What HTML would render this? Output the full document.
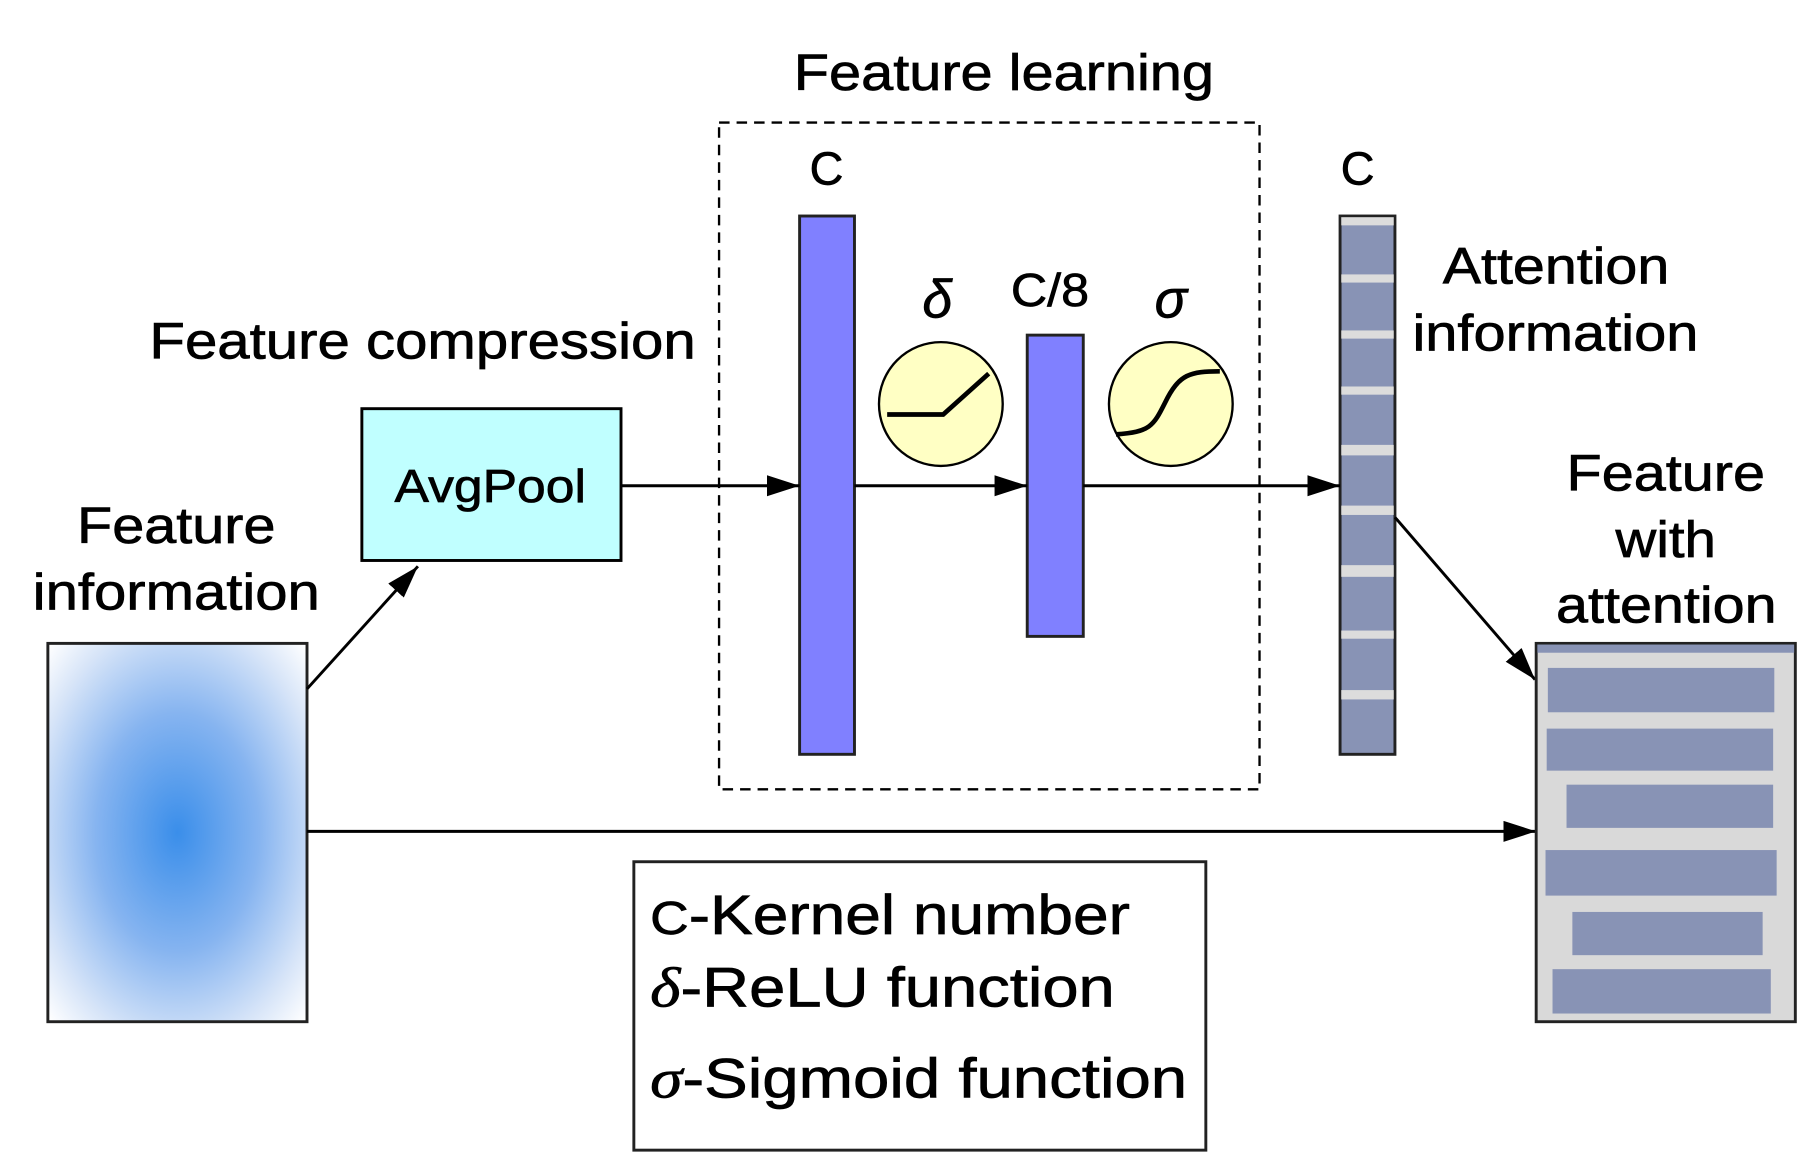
<!DOCTYPE html>
<html><head><meta charset="utf-8"><style>
html,body{margin:0;padding:0;background:#fff;}
svg{display:block;}
text{font-family:"Liberation Sans",Arial,sans-serif;fill:#000;stroke:#000;stroke-width:0.6;}
</style></head><body>
<svg width="1814" height="1170" viewBox="0 0 1554 1002" preserveAspectRatio="none" xmlns="http://www.w3.org/2000/svg">
<defs>
<radialGradient id="g" cx="50%" cy="50%" r="70%">
<stop offset="0" stop-color="#3a8eea"/>
<stop offset="0.45" stop-color="#86b4f0"/>
<stop offset="0.8" stop-color="#d6e4f8"/>
<stop offset="1" stop-color="#ffffff"/>
</radialGradient>
<marker id="b" markerWidth="28" markerHeight="18" refX="28" refY="9" orient="auto" markerUnits="userSpaceOnUse">
<path d="M0,0 L28,9 L0,18 z" fill="#000"/>
</marker>
</defs>
<rect width="1554" height="1002" fill="#fff"/>

<text x="680" y="77" font-size="44" textLength="360" lengthAdjust="spacingAndGlyphs">Feature learning</text>
<rect x="616" y="105" width="463" height="571" fill="none" stroke="#000" stroke-width="2" stroke-dasharray="9,6"/>

<text x="708" y="158" font-size="40" text-anchor="middle">C</text>
<rect x="685" y="185" width="47" height="461" fill="#8080ff" stroke="#222" stroke-width="2.5"/>

<text x="803" y="272" font-size="46" font-style="italic" text-anchor="middle" font-family="Liberation Serif">δ</text>
<ellipse cx="806" cy="346" rx="53" ry="53" fill="#ffffc4" stroke="#000" stroke-width="2"/>
<polyline points="760,355 808,355 847,320" fill="none" stroke="#000" stroke-width="4"/>

<text x="866" y="262" font-size="40" textLength="67" lengthAdjust="spacingAndGlyphs">C/8</text>
<rect x="880" y="287" width="48" height="258" fill="#8080ff" stroke="#222" stroke-width="2.5"/>

<text x="1003" y="272" font-size="46" font-style="italic" text-anchor="middle" font-family="Liberation Serif">σ</text>
<ellipse cx="1003" cy="346" rx="53" ry="53" fill="#ffffc4" stroke="#000" stroke-width="2"/>
<path d="M956,372 C985,370 988,365 998,345 C1010,320 1020,318 1045,318" fill="none" stroke="#000" stroke-width="4"/>

<text x="1163" y="158" font-size="40" text-anchor="middle">C</text>
<rect x="1148" y="185" width="47" height="461" fill="#8893b5" stroke="#222" stroke-width="2.5"/>
<g fill="#dcdcdc">
<rect x="1149" y="186" width="45" height="7"/>
<rect x="1149" y="235" width="45" height="7"/>
<rect x="1149" y="283" width="45" height="7"/>
<rect x="1149" y="331" width="45" height="7"/>
<rect x="1149" y="381" width="45" height="9"/>
<rect x="1149" y="433" width="45" height="8"/>
<rect x="1149" y="484" width="45" height="10"/>
<rect x="1149" y="540" width="45" height="7"/>
<rect x="1149" y="591" width="45" height="8"/>
</g>
<text x="1236" y="243" font-size="44" textLength="194" lengthAdjust="spacingAndGlyphs">Attention</text>
<text x="1210" y="300" font-size="44" textLength="245" lengthAdjust="spacingAndGlyphs">information</text>

<text x="128" y="307" font-size="44" textLength="468" lengthAdjust="spacingAndGlyphs">Feature compression</text>
<rect x="310" y="350" width="222" height="130" fill="#c0ffff" stroke="#000" stroke-width="2.5"/>
<text x="338" y="430" font-size="40" textLength="164" lengthAdjust="spacingAndGlyphs">AvgPool</text>

<line x1="532" y1="416" x2="685" y2="416" stroke="#000" stroke-width="2.5" marker-end="url(#b)"/>
<line x1="732" y1="416" x2="880" y2="416" stroke="#000" stroke-width="2.5" marker-end="url(#b)"/>
<line x1="928" y1="416" x2="1148" y2="416" stroke="#000" stroke-width="2.5" marker-end="url(#b)"/>

<text x="66" y="465" font-size="44" textLength="170" lengthAdjust="spacingAndGlyphs">Feature</text>
<text x="28" y="522" font-size="44" textLength="246" lengthAdjust="spacingAndGlyphs">information</text>
<rect x="41" y="551" width="222" height="324" fill="url(#g)" stroke="#222" stroke-width="2.5"/>

<line x1="263" y1="590" x2="358" y2="485" stroke="#000" stroke-width="2.5" marker-end="url(#b)"/>
<line x1="263" y1="712" x2="1316" y2="712" stroke="#000" stroke-width="2.5" marker-end="url(#b)"/>
<line x1="1195" y1="443" x2="1315" y2="582" stroke="#000" stroke-width="2.5" marker-end="url(#b)"/>

<text x="1342" y="420" font-size="44" textLength="170" lengthAdjust="spacingAndGlyphs">Feature</text>
<text x="1384" y="477" font-size="44" textLength="86" lengthAdjust="spacingAndGlyphs">with</text>
<text x="1333" y="533" font-size="44" textLength="189" lengthAdjust="spacingAndGlyphs">attention</text>

<rect x="1316" y="551" width="222" height="324" fill="#d9d9d9" stroke="#222" stroke-width="2.5"/>
<rect x="1317" y="552" width="220" height="7" fill="#8893b5"/>
<g fill="#8893b5">
<rect x="1326" y="572" width="194" height="38"/>
<rect x="1325" y="624" width="194" height="36"/>
<rect x="1342" y="672" width="177" height="37"/>
<rect x="1324" y="728" width="198" height="39"/>
<rect x="1347" y="781" width="163" height="37"/>
<rect x="1330" y="830" width="187" height="38"/>
</g>

<rect x="543" y="738" width="490" height="247" fill="#fff" stroke="#222" stroke-width="2.5"/>
<text x="557" y="800" font-size="48" textLength="411" lengthAdjust="spacingAndGlyphs"><tspan font-size="40">C</tspan>-Kernel number</text>
<text x="557" y="862" font-size="48" textLength="398" lengthAdjust="spacingAndGlyphs"><tspan font-style="italic" font-family="Liberation Serif">δ</tspan>-ReLU function</text>
<text x="557" y="940" font-size="48" textLength="460" lengthAdjust="spacingAndGlyphs"><tspan font-style="italic" font-family="Liberation Serif">σ</tspan>-Sigmoid function</text>
</svg>
</body></html>
